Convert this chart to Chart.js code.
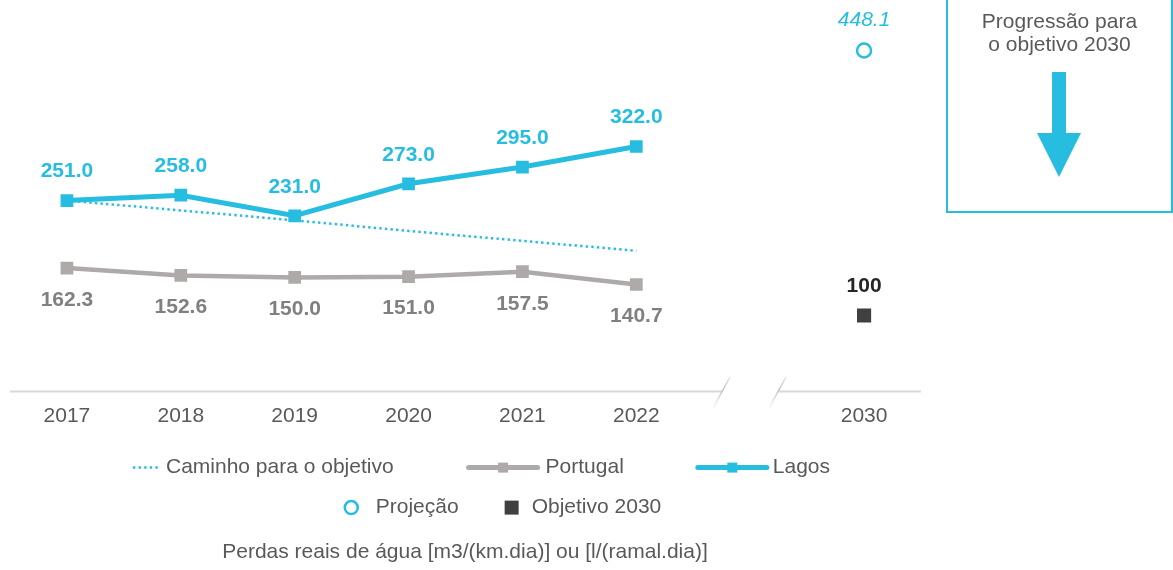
<!DOCTYPE html>
<html><head><meta charset="utf-8">
<script src="https://cdn.jsdelivr.net/npm/chart.js@4.4.1/dist/chart.umd.min.js"></script>
<style>
html,body{margin:0;padding:0;background:#fff;}
#wrap{position:relative;width:1173px;height:570px;overflow:hidden;font-family:"Liberation Sans",Arial,sans-serif;}
#c{position:absolute;left:0;top:0;}
#box{position:absolute;left:946px;top:-3px;width:227px;height:216px;border:2px solid #27BDE1;box-sizing:border-box;text-align:center;color:#595959;font-size:21px;line-height:23px;padding-top:10px;}
#arrow{position:absolute;left:0;top:0;}
</style></head>
<body>
<div id="wrap">
<canvas id="c" width="1173" height="570"></canvas>
<div id="box">Progressão para<br>o objetivo 2030</div>
<svg id="arrow" width="1173" height="570"><polygon fill="#27BDE1" points="1052,72 1066,72 1066,133 1081,133 1059,177 1037,133 1052,133"/></svg>
</div>
<script>
// ---- data ----
const categories = ['2017','2018','2019','2020','2021','2022','','2030'];
const lagos      = [251.0, 258.0, 231.0, 273.0, 295.0, 322.0, null, null];
const portugal   = [162.3, 152.6, 150.0, 151.0, 157.5, 140.7, null, null];
const caminho    = [251, 238, 225, 211, 198, 185, null, null];
const projecao   = [null, null, null, null, null, null, null, 448.1];
const objetivo   = [null, null, null, null, null, null, null, 100];
const legendLabels = ['Caminho para o objetivo', 'Portugal', 'Lagos', 'Projeção', 'Objetivo 2030'];
const axisTitle = 'Perdas reais de água [m3/(km.dia)] ou [l/(ramal.dia)]';

const CYAN = '#27BDE1', GREY = '#AEAAAA', TXT = '#595959', DARK = '#404040';
const FONT = "'Liberation Sans', Arial, sans-serif";
Chart.defaults.font.family = FONT;

const valueLabels = {
  id: 'valueLabels',
  afterDatasetsDraw(chart) {
    const ctx = chart.ctx;
    chart.data.datasets.forEach((ds, i) => {
      const lab = ds.valueLabel; if (!lab) return;
      chart.getDatasetMeta(i).data.forEach((pt, j) => {
        const v = ds.data[j]; if (v == null) return;
        ctx.save();
        ctx.font = lab.font; ctx.fillStyle = lab.color;
        ctx.textAlign = 'center'; ctx.textBaseline = 'middle';
        ctx.fillText(lab.format(v), pt.x, pt.y + lab.offset);
        ctx.restore();
      });
    });
  }
};

const axisBreak = {
  id: 'axisBreak',
  beforeDatasetsDraw(chart) {
    const ctx = chart.ctx, x = chart.scales.x, y = chart.scales.y;
    const y0 = y.getPixelForValue(0);
    const bx = x.getPixelForValue(6), half = 28;
    ctx.save();
    ctx.strokeStyle = '#D9D9D9'; ctx.lineWidth = 2;
    ctx.beginPath();
    ctx.moveTo(chart.chartArea.left, y0); ctx.lineTo(bx - half, y0);
    ctx.moveTo(bx + half, y0); ctx.lineTo(chart.chartArea.right, y0);
    ctx.stroke();
    [bx - half, bx + half].forEach(cx => {
      const g = ctx.createLinearGradient(cx + 8, y0 - 15, cx - 10, y0 + 18);
      g.addColorStop(0, 'rgba(200,200,200,0.4)');
      g.addColorStop(0.4, 'rgba(195,195,195,1)');
      g.addColorStop(1, 'rgba(200,200,200,0)');
      ctx.strokeStyle = g; ctx.lineWidth = 1.5;
      ctx.beginPath(); ctx.moveTo(cx + 8, y0 - 15); ctx.lineTo(cx - 10, y0 + 18); ctx.stroke();
    });
    ctx.restore();
  }
};

const customLegend = {
  id: 'customLegend',
  afterDraw(chart) {
    const ctx = chart.ctx, ca = chart.chartArea;
    const cx = (ca.left + ca.right) / 2;
    const items = [
      {sym: 'dots', w: 27, gap: 6},
      {sym: 'line', w: 73, gap: 6, color: GREY},
      {sym: 'line', w: 73, gap: 4, color: CYAN},
      {sym: 'circle', w: 15, gap: 17},
      {sym: 'square', w: 14, gap: 13}
    ];
    const rows = [
      {idx: [0, 1, 2], gaps: [73, 72], dy: 76, shift: 16},
      {idx: [3, 4], gaps: [46], dy: 116, shift: 37}
    ];
    ctx.save();
    ctx.font = '21px ' + FONT; ctx.textBaseline = 'middle'; ctx.textAlign = 'left';
    rows.forEach(r => {
      let total = 0;
      r.idx.forEach((k, n) => { total += items[k].w + items[k].gap + ctx.measureText(legendLabels[k]).width + (n < r.gaps.length ? r.gaps[n] : 0); });
      let x = cx + r.shift - total / 2;
      const y = ca.bottom + r.dy;
      r.idx.forEach((k, n) => {
        const it = items[k];
        if (it.sym === 'dots') {
          ctx.save(); ctx.strokeStyle = CYAN; ctx.lineWidth = 2.5; ctx.setLineDash([2.4, 3.2]);
          ctx.beginPath(); ctx.moveTo(x, y); ctx.lineTo(x + it.w, y); ctx.stroke(); ctx.restore();
        } else if (it.sym === 'line') {
          ctx.save(); ctx.strokeStyle = it.color; ctx.lineWidth = 5; ctx.lineCap = 'round';
          ctx.beginPath(); ctx.moveTo(x + 2, y); ctx.lineTo(x + it.w - 2, y); ctx.stroke();
          ctx.fillStyle = it.color; ctx.fillRect(x + it.w / 2 - 5, y - 5, 10, 10); ctx.restore();
        } else if (it.sym === 'circle') {
          ctx.save(); ctx.strokeStyle = CYAN; ctx.lineWidth = 2.5; ctx.fillStyle = '#fff';
          ctx.beginPath(); ctx.arc(x + it.w / 2, y, 6.5, 0, Math.PI * 2); ctx.fill(); ctx.stroke(); ctx.restore();
        } else {
          ctx.save(); ctx.fillStyle = DARK; ctx.fillRect(x, y - it.w / 2, it.w, it.w); ctx.restore();
        }
        x += it.w + it.gap;
        ctx.fillStyle = TXT;
        ctx.fillText(legendLabels[k], x, y);
        x += ctx.measureText(legendLabels[k]).width + (n < r.gaps.length ? r.gaps[n] : 0);
      });
    });
    ctx.restore();
  }
};

new Chart(document.getElementById('c'), {
  type: 'line',
  data: {
    labels: categories,
    datasets: [
      {label: 'Lagos', data: lagos, borderColor: CYAN, backgroundColor: CYAN, borderWidth: 5,
       pointStyle: 'rect', pointRadius: 9, pointBorderWidth: 0, pointBackgroundColor: CYAN, tension: 0,
       valueLabel: {font: 'bold 21px ' + FONT, color: CYAN, offset: -29, format: v => v.toFixed(1)}},
      {label: 'Portugal', data: portugal, borderColor: GREY, backgroundColor: GREY, borderWidth: 4.5,
       pointStyle: 'rect', pointRadius: 9, pointBorderWidth: 0, pointBackgroundColor: GREY, tension: 0,
       valueLabel: {font: 'bold 21px ' + FONT, color: '#808080', offset: 32, format: v => v.toFixed(1)}},
      {label: 'Caminho para o objetivo', data: caminho, borderColor: CYAN, borderWidth: 2.5, borderDash: [2.4, 3.2],
       pointRadius: 0, tension: 0, fill: false},
      {label: 'Projeção', data: projecao, showLine: false, pointStyle: 'circle', pointRadius: 7,
       pointBorderWidth: 2.5, pointBorderColor: CYAN, pointBackgroundColor: '#fff', borderColor: CYAN,
       valueLabel: {font: 'italic 21px ' + FONT, color: CYAN, offset: -30, format: v => v.toFixed(1)}},
      {label: 'Objetivo 2030', data: objetivo, showLine: false, pointStyle: 'rect', pointRadius: 10,
       pointBorderWidth: 0, pointBackgroundColor: DARK, borderColor: DARK,
       valueLabel: {font: 'bold 21px ' + FONT, color: '#262626', offset: -29, format: v => String(v)}}
    ]
  },
  options: {
    responsive: false,
    animation: false,
    devicePixelRatio: 1,
    layout: {padding: {top: 11, left: 9, right: 252, bottom: 0}},
    scales: {
      x: {type: 'category', offset: true,
          grid: {display: false, drawTicks: false}, border: {display: false},
          ticks: {color: TXT, font: {size: 21}, padding: 12, maxRotation: 0, autoSkip: false}},
      y: {display: false, min: 0, max: 500}
    },
    plugins: {
      legend: {display: false},
      tooltip: {enabled: false},
      title: {display: true, position: 'bottom', text: axisTitle, color: TXT,
              font: {size: 21, weight: 'normal'}, padding: {top: 99, bottom: 5}}
    }
  },
  plugins: [axisBreak, valueLabels, customLegend]
});
</script>
</body></html>
